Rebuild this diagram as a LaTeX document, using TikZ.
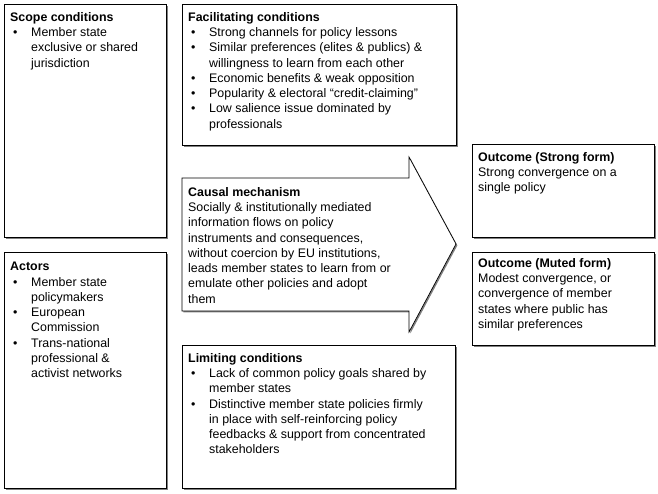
\documentclass[tikz,border=0pt]{standalone}
\usepackage{fontspec}
\setmainfont{Liberation Sans}
\usetikzlibrary{shadows}
\newcommand{\bul}{\makebox[21pt][l]{\hspace*{3pt}\textbullet}}
\newcommand{\cnt}{\hspace*{21pt}}
\tikzset{
  box/.style={draw=black, line width=0.7pt, fill=white, inner sep=0pt, anchor=north west,
    drop shadow={shadow xshift=1.4pt, shadow yshift=-1.4pt, fill=black!50, opacity=1}},
  txt/.style={anchor=north west, align=left, inner sep=0pt,
    font=\fontsize{12.4pt}{15.3pt}\selectfont}
}
\begin{document}
\begin{tikzpicture}[x=1pt,y=-1pt]
\useasboundingbox[fill=white] (0,0) rectangle (658,494);
% boxes
\node[box, minimum width=162pt, minimum height=233pt] (scope) at (4,4) {};
\node[box, minimum width=162pt, minimum height=236pt] (actors) at (4,252) {};
\node[box, minimum width=274pt, minimum height=141pt] (facil) at (182,4) {};
\node[box, minimum width=273pt, minimum height=143pt] (limit) at (182,345) {};
\node[box, minimum width=182pt, minimum height=93pt] (strong) at (472,144) {};
\node[box, minimum width=182pt, minimum height=93pt] (muted) at (472,252) {};
% arrow
\coordinate (a1) at (182,178);
\coordinate (a2) at (409,178);
\coordinate (a3) at (409,157);
\coordinate (tip) at (456,244);
\coordinate (a5) at (409,332);
\coordinate (a6) at (409,311);
\coordinate (a7) at (182,311);
\fill[black!50] ([shift={(1.4,1.4)}]a1) -- ([shift={(1.4,1.4)}]a2) -- ([shift={(1.4,1.4)}]a3) -- ([shift={(1.4,1.4)}]tip) -- ([shift={(1.4,1.4)}]a5) -- ([shift={(1.4,1.4)}]a6) -- ([shift={(1.4,1.4)}]a7) -- cycle;
\draw[line width=0.7pt, fill=white, line join=miter] (a1) -- (a2) -- (a3) -- (tip) -- (a5) -- (a6) -- (a7) -- cycle;
% texts
\node[txt] (scopet) at (10,12.0) {\textbf{Scope conditions}\\
\bul Member state\\
\cnt exclusive or shared\\
\cnt jurisdiction};
\node[txt] (facilt) at (188,12.0) {\textbf{Facilitating conditions}\\
\bul Strong channels for policy lessons\\
\bul Similar preferences (elites \& publics) \&\\
\cnt willingness to learn from each other\\
\bul Economic benefits \& weak opposition\\
\bul Popularity \& electoral “credit-claiming”\\
\bul Low salience issue dominated by\\
\cnt professionals};
\node[txt] (causalt) at (188,187.0) {\textbf{Causal mechanism}\\
Socially \& institutionally mediated\\
information flows on policy\\
instruments and consequences,\\
without coercion by EU institutions,\\
leads member states to learn from or\\
emulate other policies and adopt\\
them};
\node[txt] (limitt) at (188,353.0) {\textbf{Limiting conditions}\\
\bul Lack of common policy goals shared by\\
\cnt member states\\
\bul Distinctive member state policies firmly\\
\cnt in place with self-reinforcing policy\\
\cnt feedbacks \& support from concentrated\\
\cnt stakeholders};
\node[txt] (actorst) at (10,262.0) {\textbf{Actors}\\
\bul Member state\\
\cnt policymakers\\
\bul European\\
\cnt Commission\\
\bul Trans-national\\
\cnt professional \&\\
\cnt activist networks};
\node[txt] (strongt) at (478,152.0) {\textbf{Outcome (Strong form)}\\
Strong convergence on a\\
single policy};
\node[txt] (mutedt) at (478,258.0) {\textbf{Outcome (Muted form)}\\
Modest convergence, or\\
convergence of member\\
states where public has\\
similar preferences};
\end{tikzpicture}
\end{document}
